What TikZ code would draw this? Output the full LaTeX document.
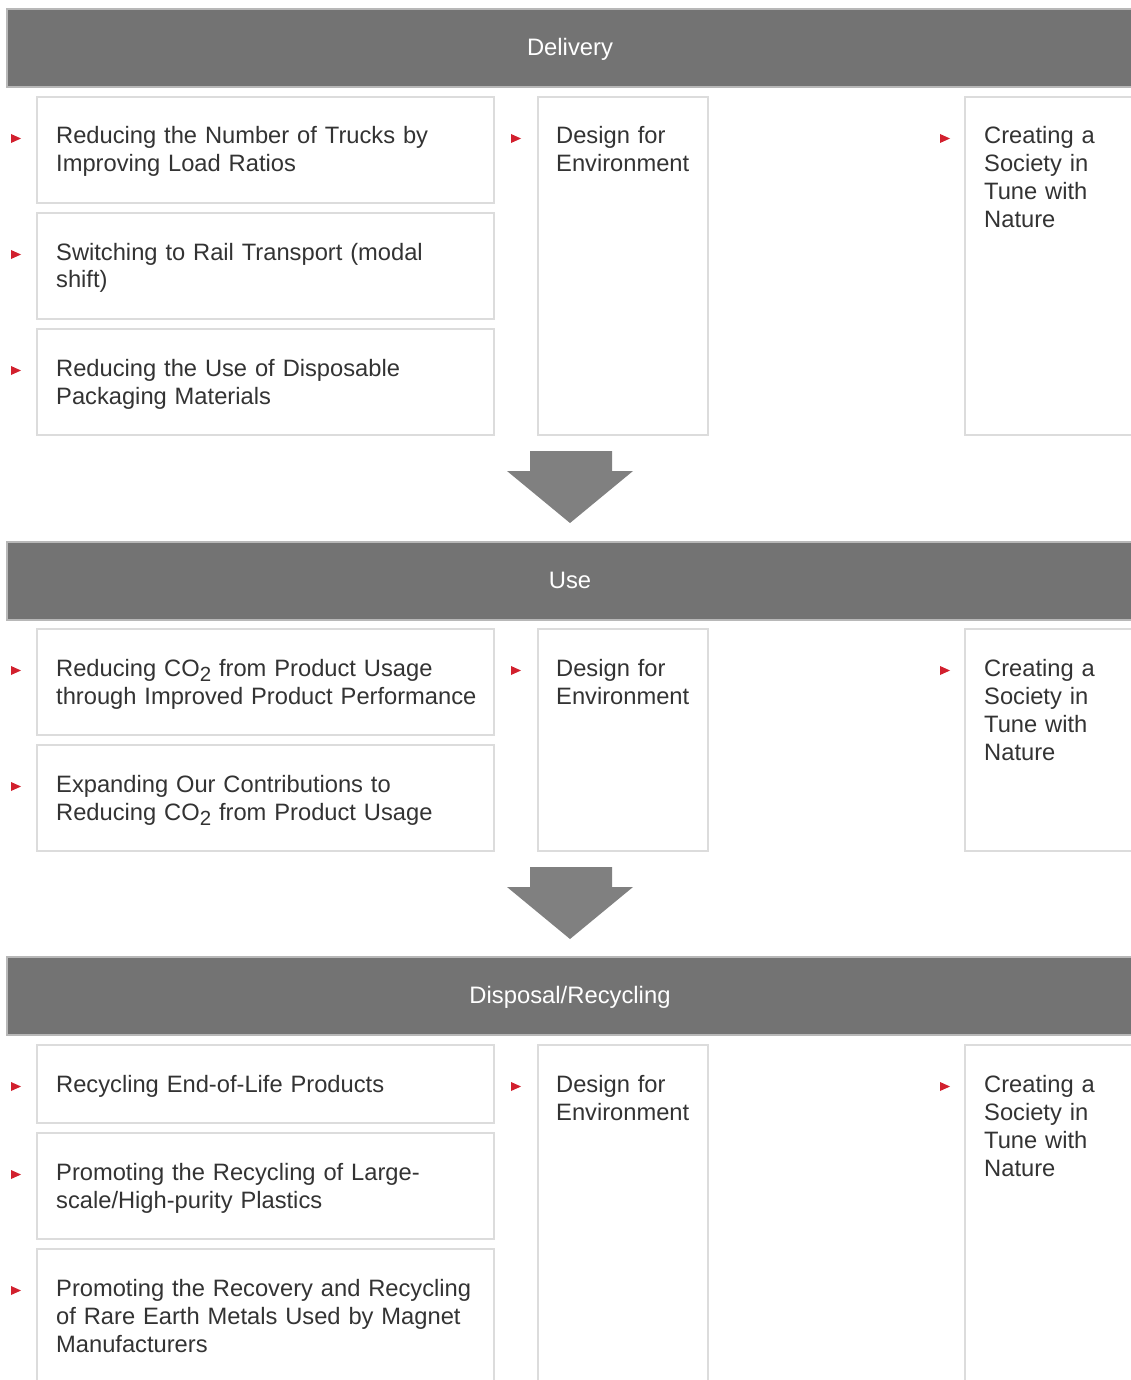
\documentclass[tikz,border=0pt]{standalone}
\usepackage{fontspec}
\setmainfont{Liberation Sans}
\usetikzlibrary{calc}
\definecolor{hdrfill}{HTML}{737373}
\definecolor{hdrline}{HTML}{B8B8B8}
\definecolor{boxline}{HTML}{DCDCDC}
\definecolor{txtc}{HTML}{333333}
\definecolor{arrc}{HTML}{808080}
\definecolor{bulc}{HTML}{D2202E}
\newcommand{\COtwo}{CO\raisebox{-0.45ex}{\fontsize{20.5}{20}\selectfont 2}}
\tikzset{
  hdr/.style={draw=hdrline, line width=2pt, fill=hdrfill, minimum height=78pt, minimum width=1140pt, anchor=north west, inner sep=0pt},
  hdrtext/.style={text=white, font=\fontsize{23.8}{28}\selectfont, inner sep=0pt, anchor=base},
  card/.style={draw=boxline, line width=2pt, fill=white, anchor=north west, inner sep=0pt},
  cardtext/.style={text=txtc, font=\fontsize{23.7}{28}\selectfont, align=left, anchor=base west, inner sep=0pt, text width=440pt},
  bul/.style={fill=bulc},
  bigarrow/.style={fill=arrc}
}
\newcommand{\bulletat}[2]{\fill[bul] ($(#1.north west)+(#2,38)$) -- ++(10,4.5) -- ++(-10,4.5) -- cycle;}
\begin{document}
\begin{tikzpicture}[x=1pt,y=-1pt]
\useasboundingbox (0,0) rectangle (1131,1380);
\fill[white] (0,0) rectangle (1131,1380);
% ---------- Delivery ----------
\node[hdr] (h1) at (6,8) {};
\node[hdrtext] (h1t) at (570,55.5) {Delivery};
\node[card, minimum width=457pt, minimum height=106pt] (d1) at (36,96) {};
\node[card, minimum width=457pt, minimum height=106pt] (d2) at (36,212) {};
\node[card, minimum width=457pt, minimum height=106pt] (d3) at (36,328) {};
\node[card, minimum width=170pt, minimum height=338pt] (dm) at (537,96) {};
\node[card, minimum width=200pt, minimum height=338pt] (dr) at (964,96) {};
\node[cardtext] (d1t) at ($(d1.north west)+(20,48)$) {Reducing the Number of Trucks by\\Improving Load Ratios};
\node[cardtext] (d2t) at ($(d2.north west)+(20,48)$) {Switching to Rail Transport (modal\\shift)};
\node[cardtext] (d3t) at ($(d3.north west)+(20,48)$) {Reducing the Use of Disposable\\Packaging Materials};
\node[cardtext] (dmt) at ($(dm.north west)+(19,48)$) {Design for\\Environment};
\node[cardtext] (drt) at ($(dr.north west)+(20,48)$) {Creating a\\Society in\\Tune with\\Nature};
\bulletat{d1}{-25}\bulletat{d2}{-25}\bulletat{d3}{-25}\bulletat{dm}{-26}\bulletat{dr}{-24}
% arrow 1
\fill[bigarrow] (530,451) -- (612,451) -- (612,471) -- (633,471) -- (570,523) -- (507,471) -- (530,471) -- cycle;
% ---------- Use ----------
\node[hdr] (h2) at (6,541) {};
\node[hdrtext] (h2t) at (570,588.5) {Use};
\node[card, minimum width=457pt, minimum height=106pt] (u1) at (36,628) {};
\node[card, minimum width=457pt, minimum height=106pt] (u2) at (36,744) {};
\node[card, minimum width=170pt, minimum height=222pt] (um) at (537,628) {};
\node[card, minimum width=200pt, minimum height=222pt] (ur) at (964,628) {};
\node[cardtext] (u1t) at ($(u1.north west)+(20,48)$) {Reducing \COtwo{} from Product Usage\\through Improved Product Performance};
\node[cardtext] (u2t) at ($(u2.north west)+(20,48)$) {Expanding Our Contributions to\\Reducing \COtwo{} from Product Usage};
\node[cardtext] (umt) at ($(um.north west)+(19,48)$) {Design for\\Environment};
\node[cardtext] (urt) at ($(ur.north west)+(20,48)$) {Creating a\\Society in\\Tune with\\Nature};
\bulletat{u1}{-25}\bulletat{u2}{-25}\bulletat{um}{-26}\bulletat{ur}{-24}
% arrow 2
\fill[bigarrow] (530,867) -- (612,867) -- (612,887) -- (633,887) -- (570,939) -- (507,887) -- (530,887) -- cycle;
% ---------- Disposal/Recycling ----------
\node[hdr] (h3) at (6,956) {};
\node[hdrtext] (h3t) at (570,1003.5) {Disposal/Recycling};
\node[card, minimum width=457pt, minimum height=78pt] (r1) at (36,1044) {};
\node[card, minimum width=457pt, minimum height=106pt] (r2) at (36,1132) {};
\node[card, minimum width=457pt, minimum height=150pt] (r3) at (36,1248) {};
\node[card, minimum width=170pt, minimum height=360pt] (rm) at (537,1044) {};
\node[card, minimum width=200pt, minimum height=360pt] (rr) at (964,1044) {};
\node[cardtext] (r1t) at ($(r1.north west)+(20,48)$) {Recycling End-of-Life Products};
\node[cardtext] (r2t) at ($(r2.north west)+(20,48)$) {Promoting the Recycling of Large-\\scale/High-purity Plastics};
\node[cardtext] (r3t) at ($(r3.north west)+(20,48)$) {Promoting the Recovery and Recycling\\of Rare Earth Metals Used by Magnet\\Manufacturers};
\node[cardtext] (rmt) at ($(rm.north west)+(19,48)$) {Design for\\Environment};
\node[cardtext] (rrt) at ($(rr.north west)+(20,48)$) {Creating a\\Society in\\Tune with\\Nature};
\bulletat{r1}{-25}\bulletat{r2}{-25}\bulletat{r3}{-25}\bulletat{rm}{-26}\bulletat{rr}{-24}
\end{tikzpicture}
\end{document}
